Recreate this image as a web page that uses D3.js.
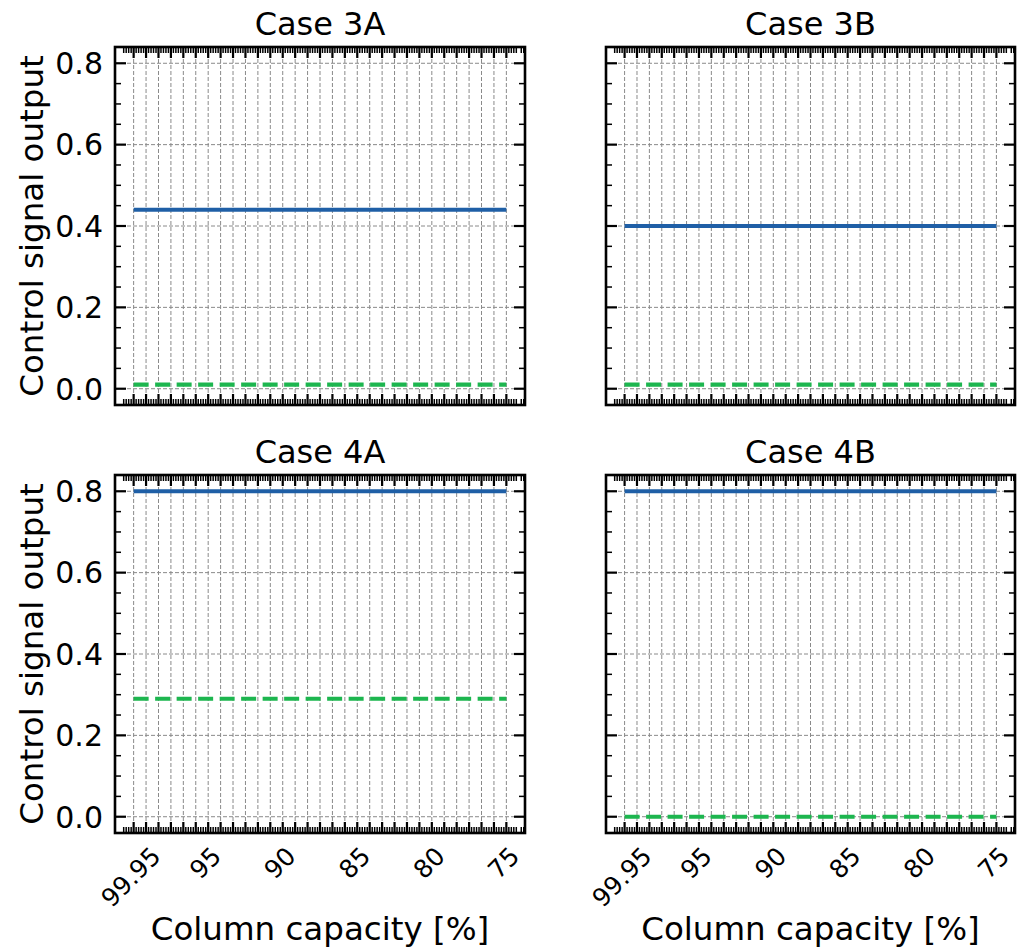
<!DOCTYPE html>
<html>
<head>
<meta charset="utf-8">
<script src="https://cdn.jsdelivr.net/npm/d3@7"></script>
<style>
  body { margin: 0; background: white; }
  text { font-family: "DejaVu Sans", sans-serif; fill: black; }
</style>
</head>
<body>
<script>
// panel data
var cases = ['Case 3A', 'Case 3B', 'Case 4A', 'Case 4B'];
var solidValues = [0.44, 0.40, 0.80, 0.80];
var dashedValues = [0.01, 0.01, 0.29, 0.00];

// x axis: 31 capacity steps, labelled every 6th
var xSteps = 31;
var xTickLabels = ['99.95', '95', '90', '85', '80', '75'];
var xTickIndex = [0, 6, 12, 18, 24, 30];

var yTicks = [0, 0.2, 0.4, 0.6, 0.8];

var width = 1017,
    height = 952;

var panels = [
  { x: 115, y: 47, w: 410, h: 358, row: 0, col: 0 },
  { x: 606, y: 47, w: 409, h: 358, row: 0, col: 1 },
  { x: 115, y: 475, w: 410, h: 358, row: 1, col: 0 },
  { x: 606, y: 475, w: 409, h: 358, row: 1, col: 1 }
];

var svg = d3.select('body').append('svg')
    .attr('width', width)
    .attr('height', height)
    .style('background', 'white');

var majorLen = 11, minorLen = 6;

panels.forEach(function(p, i) {
  var x = d3.scaleLinear().domain([-1.5, xSteps - 1 + 1.5]).range([p.x, p.x + p.w]);
  var y = d3.scaleLinear().domain([-0.04, 0.84]).range([p.y + p.h, p.y]);
  var g = svg.append('g');

  var majorX = d3.range(xSteps);
  var minorX = [];
  d3.range(-1, xSteps + 1).forEach(function(k) {
    for (var m = 1; m < 5; m++) minorX.push(k + m / 5);
  });
  minorX = minorX.filter(function(v) { return x(v) > p.x + 1 && x(v) < p.x + p.w - 1; });
  var minorY = d3.range(-0.0, 0.85, 0.05).filter(function(v) {
    return yTicks.indexOf(+v.toFixed(2)) < 0 && y(v) > p.y + 1 && y(v) < p.y + p.h - 1;
  });

  // grid
  g.selectAll('.gx').data(majorX).enter().append('line')
      .attr('x1', function(d) { return x(d); })
      .attr('x2', function(d) { return x(d); })
      .attr('y1', p.y).attr('y2', p.y + p.h)
      .attr('stroke', '#8a8a8a').attr('stroke-width', 1)
      .attr('stroke-dasharray', '4,2');
  g.selectAll('.gy').data(yTicks).enter().append('line')
      .attr('y1', function(d) { return y(d); })
      .attr('y2', function(d) { return y(d); })
      .attr('x1', p.x).attr('x2', p.x + p.w)
      .attr('stroke', '#8a8a8a').attr('stroke-width', 1)
      .attr('stroke-dasharray', '4,2');

  // lines
  var line = d3.line()
      .x(function(d) { return x(d[0]); })
      .y(function(d) { return y(d[1]); });
  g.append('path')
      .attr('d', line([[0, solidValues[i]], [xSteps - 1, solidValues[i]]]))
      .attr('stroke', '#1f5fa6').attr('stroke-width', 4.2).attr('fill', 'none');
  g.append('path')
      .attr('d', line([[0, dashedValues[i]], [xSteps - 1, dashedValues[i]]]))
      .attr('stroke', '#1db64f').attr('stroke-width', 4.2).attr('fill', 'none')
      .attr('stroke-dasharray', '15,6.5');

  // ticks, inward on all four sides
  [p.y + p.h, p.y].forEach(function(edge, s) {
    var dir = s === 0 ? -1 : 1;
    g.selectAll('.mx' + s).data(majorX).enter().append('line')
        .attr('x1', function(d) { return x(d); }).attr('x2', function(d) { return x(d); })
        .attr('y1', edge).attr('y2', edge + dir * majorLen)
        .attr('stroke', 'black').attr('stroke-width', 2.2);
    g.selectAll('.nx' + s).data(minorX).enter().append('line')
        .attr('x1', function(d) { return x(d); }).attr('x2', function(d) { return x(d); })
        .attr('y1', edge).attr('y2', edge + dir * minorLen)
        .attr('stroke', 'black').attr('stroke-width', 1.5);
  });
  [p.x, p.x + p.w].forEach(function(edge, s) {
    var dir = s === 0 ? 1 : -1;
    g.selectAll('.my' + s).data(yTicks).enter().append('line')
        .attr('y1', function(d) { return y(d); }).attr('y2', function(d) { return y(d); })
        .attr('x1', edge).attr('x2', edge + dir * majorLen)
        .attr('stroke', 'black').attr('stroke-width', 2.2);
    g.selectAll('.ny' + s).data(minorY).enter().append('line')
        .attr('y1', function(d) { return y(d); }).attr('y2', function(d) { return y(d); })
        .attr('x1', edge).attr('x2', edge + dir * minorLen)
        .attr('stroke', 'black').attr('stroke-width', 1.5);
  });

  // frame
  g.append('rect')
      .attr('x', p.x).attr('y', p.y).attr('width', p.w).attr('height', p.h)
      .attr('fill', 'none').attr('stroke', 'black').attr('stroke-width', 2.6);

  // title
  g.append('text')
      .text(cases[i])
      .attr('x', p.x + p.w / 2).attr('y', p.y - 12)
      .attr('text-anchor', 'middle')
      .style('font-size', '32px');

  if (p.col === 0) {
    g.selectAll('.yl').data(yTicks).enter().append('text')
        .text(function(d) { return d.toFixed(1); })
        .attr('x', p.x - 12)
        .attr('y', function(d) { return y(d); })
        .attr('dy', '0.36em')
        .attr('text-anchor', 'end')
        .style('font-size', '30px');
    g.append('text')
        .text('Control signal output')
        .attr('transform', 'translate(' + 43 + ',' + (p.y + p.h / 2) + ') rotate(-90)')
        .attr('text-anchor', 'middle')
        .style('font-size', '32.5px');
  }

  if (p.row === 1) {
    xTickIndex.forEach(function(idx, k) {
      var t = g.append('text')
          .text(xTickLabels[k])
          .attr('text-anchor', 'middle')
          .attr('dy', '0.36em')
          .style('font-size', '25px');
      var tw = t.node().getComputedTextLength();
      var th = 25 * 0.73;
      var bh = (tw + th) / Math.SQRT2;
      var cx = x(idx) - 3, cy = p.y + p.h + 12 + bh / 2;
      t.attr('transform', 'translate(' + cx + ',' + cy + ') rotate(-45)');
    });
    g.append('text')
        .text('Column capacity [%]')
        .attr('x', p.x + p.w / 2).attr('y', 940)
        .attr('text-anchor', 'middle')
        .style('font-size', '32.5px');
  }
});
</script>
</body>
</html>
